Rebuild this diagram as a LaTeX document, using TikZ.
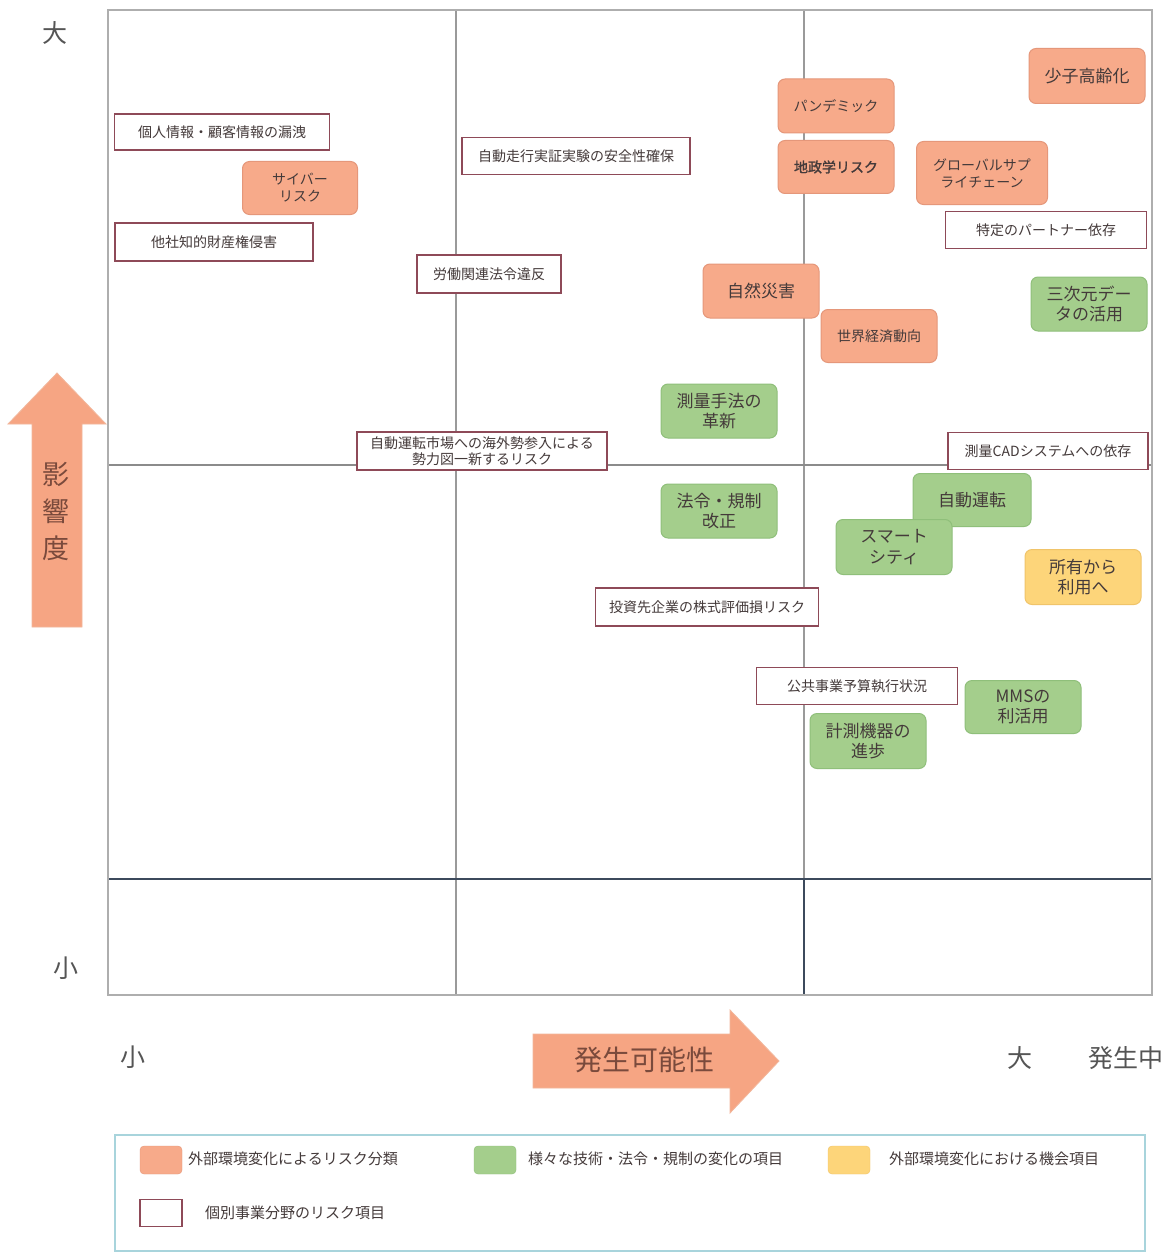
\documentclass[tikz,border=0pt]{standalone}
\usepackage{fontspec}
\setmainfont{Noto Sans CJK JP}
\newfontfamily\jpb{Noto Sans CJK JP}[FakeBold=1.6]
\definecolor{org}{HTML}{F7AA8A}
\definecolor{orgline}{HTML}{E5977A}
\definecolor{grn}{HTML}{A4CE8C}
\definecolor{grnline}{HTML}{8FBF7A}
\definecolor{yel}{HTML}{FDD57A}
\definecolor{yelline}{HTML}{F0C46A}
\definecolor{boxred}{HTML}{8E4A58}
\definecolor{txt}{HTML}{443A3A}
\definecolor{axtxt}{HTML}{555555}
\definecolor{gridg}{HTML}{9A9A9A}
\definecolor{gridn}{HTML}{3C4A5C}
\definecolor{arr}{HTML}{F6A583}
\definecolor{arrline}{HTML}{F2B79C}
\definecolor{arrtxt}{HTML}{7A4A3C}
\definecolor{legline}{HTML}{A8D4DC}
\tikzset{
  base/.style={inner sep=0pt, align=center, text=txt},
  small/.style={font=\fontsize{14}{17}\selectfont},
  big/.style={font=\fontsize{17}{20.5}\selectfont},
  rbox/.style={base, small, draw=boxred, fill=white, line width=1.2pt},
  obox/.style={base, draw=orgline, fill=org, rounded corners=7pt, line width=1pt},
  gbox/.style={base, big, draw=grnline, fill=grn, rounded corners=7pt, line width=1pt},
  ybox/.style={base, big, draw=yelline, fill=yel, rounded corners=7pt, line width=1pt},
  axlab/.style={text=axtxt, inner sep=0pt, font=\fontsize{25}{28}\selectfont},
  legtxt/.style={text=txt, inner sep=0pt, anchor=west, font=\fontsize{15}{17}\selectfont},
}
\begin{document}
\begin{tikzpicture}[x=1pt,y=-1pt]
\useasboundingbox (0,0) rectangle (1175,1252);
\fill[white] (0,0) rectangle (1175,1252);
% grid
\coordinate (g1) at (456,10); \coordinate (g1b) at (456,995);
\coordinate (g2) at (804,10); \coordinate (g2m) at (804,879); \coordinate (g2b) at (804,995);
\coordinate (h1l) at (108,465); \coordinate (h1r) at (1152,465);
\coordinate (h2l) at (108,879); \coordinate (h2r) at (1152,879);
\draw[gridg, line width=1.4pt] (g1) -- (g1b);
\draw[gridg, line width=1.4pt] (g2) -- (g2m);
\draw[gridn, line width=1.4pt] (g2m) -- (g2b);
\draw[gridg!90!black, line width=1.2pt] (h1l) -- (h1r);
\draw[gridn, line width=1.8pt] (h2l) -- (h2r);
\draw[gridg!80, line width=2pt] (108,10) rectangle (1152,995);
% axis labels
\node[axlab] (bigy) at (55,33) {大};
\node[axlab] (smally) at (66,968) {小};
\node[axlab] (smallx) at (133,1057) {小};
\node[axlab] (bigx) at (1020,1058) {大};
\node[axlab] (now) at (1126,1058) {発生中};
% arrows
\draw[arrline, fill=arr, line width=0.8pt] (32,627) -- (32,424) -- (8,424) -- (57,373) -- (106,424) -- (82,424) -- (82,627) -- cycle;
\node[text=arrtxt, inner sep=0pt, align=center, font=\fontsize{27}{37}\selectfont] (yax) at (56,511) {影\\響\\度};
\draw[arrline, fill=arr, line width=0.8pt] (533,1034) -- (730,1034) -- (730,1010) -- (779,1061) -- (730,1113) -- (730,1088) -- (533,1088) -- cycle;
\node[text=arrtxt, inner sep=0pt, font=\fontsize{28}{30}\selectfont] (xax) at (644,1060) {発生可能性};
% items
\node[rbox, minimum width=215, minimum height=36] (n1) at (222,132) {個人情報・顧客情報の漏洩};
\node[obox, small, minimum width=115, minimum height=53] (n2) at (300,188) {サイバー\\リスク};
\node[rbox, minimum width=198, minimum height=38] (n3) at (214,242) {他社知的財産権侵害};
\node[rbox, minimum width=228, minimum height=37] (n4) at (576,156) {自動走行実証実験の安全性確保};
\node[rbox, minimum width=144, minimum height=38] (n5) at (489,274) {労働関連法令違反};
\node[obox, small, minimum width=116, minimum height=54] (n6) at (836,106) {パンデミック};
\node[obox, small, minimum width=116, minimum height=53] (n7) at (836,167) {\jpb 地政学リスク};
\node[obox, big, minimum width=116, minimum height=55] (n8) at (1087,76) {少子高齢化};
\node[obox, small, minimum width=131, minimum height=63] (n9) at (982,173) {グローバルサプ\\ライチェーン};
\node[rbox, minimum width=201, minimum height=37] (n10) at (1046,230) {特定のパートナー依存};
\node[obox, big, minimum width=116, minimum height=54] (n11) at (761,291) {自然災害};
\node[obox, small, minimum width=116, minimum height=53] (n12) at (879,336) {世界経済動向};
\node[gbox, minimum width=116, minimum height=54] (n13) at (1089,304) {三次元デー\\タの活用};
\node[gbox, minimum width=116, minimum height=54] (n14) at (719,411) {測量手法の\\革新};
\node[rbox, minimum width=200, minimum height=37] (n15) at (1048,451) {測量CADシステムへの依存};
\node[rbox, minimum width=250, minimum height=38, font=\fontsize{14}{15.5}\selectfont] (n16) at (482,451) {自動運転市場への海外勢参入による\\勢力図一新するリスク};
\node[gbox, minimum width=116, minimum height=54] (n17) at (719,511) {法令・規制\\改正};
\node[gbox, minimum width=118, minimum height=53] (n18) at (972,500) {自動運転};
\node[gbox, minimum width=116, minimum height=55] (n19) at (894,547) {スマート\\シティ};
\node[ybox, minimum width=116, minimum height=55] (n20) at (1083,577) {所有から\\利用へ};
\node[rbox, minimum width=223, minimum height=38] (n21) at (707,607) {投資先企業の株式評価損リスク};
\node[rbox, minimum width=201, minimum height=37] (n22) at (857,686) {公共事業予算執行状況};
\node[gbox, minimum width=116, minimum height=53] (n23) at (1023,707) {MMSの\\利活用};
\node[gbox, minimum width=116, minimum height=55] (n24) at (868,741) {計測機器の\\進歩};
% legend
\draw[legline, line width=1.5pt] (115,1135) rectangle (1145,1251);
\node[draw=orgline, fill=org, rounded corners=4pt, minimum width=42, minimum height=28, inner sep=0pt] (l1) at (161,1160) {};
\node[legtxt] (l1t) at (188,1159) {外部環境変化によるリスク分類};
\node[draw=grnline, fill=grn, rounded corners=4pt, minimum width=42, minimum height=28, inner sep=0pt] (l2) at (495,1160) {};
\node[legtxt] (l2t) at (528,1159) {様々な技術・法令・規制の変化の項目};
\node[draw=yelline, fill=yel, rounded corners=4pt, minimum width=42, minimum height=28, inner sep=0pt] (l3) at (849,1160) {};
\node[legtxt] (l3t) at (889,1159) {外部環境変化における機会項目};
\node[draw=boxred, fill=white, line width=1.2pt, minimum width=42, minimum height=27, inner sep=0pt] (l4) at (161,1213) {};
\node[legtxt] (l4t) at (205,1213) {個別事業分野のリスク項目};
\end{tikzpicture}
\end{document}
